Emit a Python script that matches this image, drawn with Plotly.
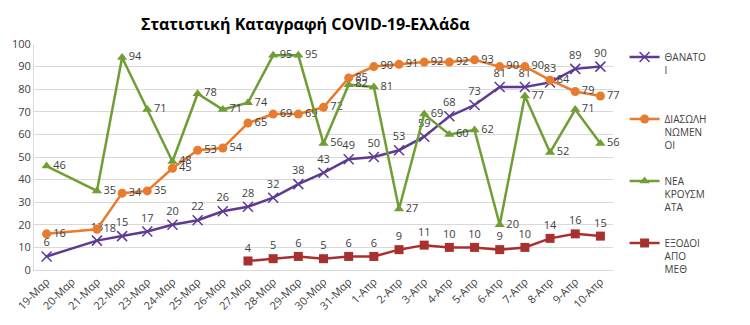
import plotly.graph_objects as go

dates = ["19-Μαρ", "20-Μαρ", "21-Μαρ", "22-Μαρ", "23-Μαρ", "24-Μαρ", "25-Μαρ", "26-Μαρ",
         "27-Μαρ", "28-Μαρ", "29-Μαρ", "30-Μαρ", "31-Μαρ", "1-Απρ", "2-Απρ", "3-Απρ",
         "4-Απρ", "5-Απρ", "6-Απρ", "7-Απρ", "8-Απρ", "9-Απρ", "10-Απρ"]

deaths = [6, None, 13, 15, 17, 20, 22, 26, 28, 32, 38, 43, 49, 50, 53, 59, 68, 73, 81, 81, 83, 89, 90]
intubated = [16, None, 18, 34, 35, 45, 53, 54, 65, 69, 69, 72, 85, 90, 91, 92, 92, 93, 90, 90, 84, 79, 77]
new_cases = [46, None, 35, 94, 71, 48, 78, 71, 74, 95, 95, 56, 82, 81, 27, 69, 60, 62, 20, 77, 52, 71, 56]
icu_exits = [None, None, None, None, None, None, None, None, 4, 5, 6, 5, 6, 6, 9, 11, 10, 10, 9, 10, 14, 16, 15]

names = ["ΘΑΝΑΤΟ<br>Ι<br> ", "ΔΙΑΣΩΛΗ<br>ΝΩΜΕΝ<br>ΟΙ", "ΝΕΑ<br>ΚΡΟΥΣΜ<br>ΑΤΑ", "ΕΞΟΔΟΙ<br>ΑΠΟ<br>ΜΕΘ"]
colors = ["#5E3A94", "#E97B2E", "#6F9E35", "#A8302F"]
symbols = ["x-thin", "circle", "triangle-up", "square"]
positions = ["top center", "middle right", "middle right", "top center"]
series = [deaths, intubated, new_cases, icu_exits]

fig = go.Figure()
for i, (vals, name, col, sym, pos) in enumerate(zip(series, names, colors, symbols, positions)):
    marker = dict(symbol=sym, size=9, color=col)
    if sym == "x-thin":
        marker = dict(symbol=sym, size=10, color=col, line=dict(color=col, width=1.5))
    fig.add_trace(go.Scatter(
        x=dates, y=vals, name=name, mode="lines+markers+text",
        text=[("" if v is None else str(v)) for v in vals],
        textposition=pos,
        textfont=dict(size=11, color="#404040", family="Open Sans"),
        line=dict(color=col, width=2.5),
        marker=marker,
        connectgaps=True,
        legendgroup=str(i),
        cliponaxis=False,
    ))

fig.update_layout(
    width=750, height=325,
    margin=dict(l=33, r=137, t=44, b=48),
    paper_bgcolor="white", plot_bgcolor="white",
    title=dict(text="<b>Στατιστική Καταγραφή COVID-19-Ελλάδα</b>",
               x=0.407, xanchor="center", y=0.925, yanchor="middle",
               font=dict(size=16, color="#000000", family="Open Sans")),
    font=dict(family="Open Sans", size=10, color="#404040"),
    showlegend=True,
    legend=dict(x=1.02, xanchor="left", y=1.0, yanchor="top",
                font=dict(size=10, color="#404040"),
                tracegroupgap=20, valign="top", itemwidth=30,
                maxheight=320,
                bgcolor="rgba(0,0,0,0)"),
    xaxis=dict(type="category", range=[-0.5, 22.5], tickangle=-45,
               showline=True, linecolor="#D9D9D9", linewidth=1,
               showgrid=False, ticks="", tickfont=dict(size=11, color="#404040")),
    yaxis=dict(range=[0, 100], dtick=10, showgrid=True, gridcolor="#D9D9D9",
               gridwidth=1, showline=True, linecolor="#D9D9D9", zeroline=False,
               ticks="", tickfont=dict(size=11, color="#404040")),
)

fig.write_html("out.html")
